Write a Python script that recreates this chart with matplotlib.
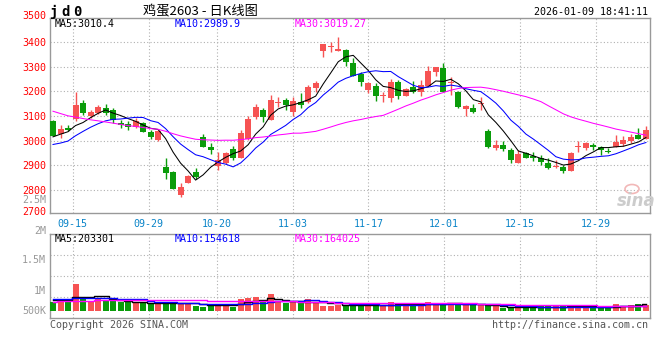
import matplotlib
matplotlib.use('Agg')
import matplotlib.pyplot as plt
import numpy as np
import pandas as pd
from matplotlib.patches import Ellipse

# ---------------- data ----------------
dates = ['09-10', '09-11', '09-12', '09-15', '09-16', '09-17', '09-18', '09-19', '09-22', '09-23',
         '09-24', '09-25', '09-26', '09-29', '09-30', '10-09', '10-10', '10-13', '10-14', '10-15',
         '10-16', '10-17', '10-20', '10-21', '10-22', '10-23', '10-24', '10-27', '10-28', '10-29',
         '10-30', '10-31', '11-03', '11-04', '11-05', '11-06', '11-07', '11-10', '11-11', '11-12',
         '11-13', '11-14', '11-17', '11-18', '11-19', '11-20', '11-21', '11-24', '11-25', '11-26',
         '11-27', '11-28', '12-01', '12-02', '12-03', '12-04', '12-05', '12-08', '12-09', '12-10',
         '12-11', '12-12', '12-15', '12-16', '12-17', '12-18', '12-19', '12-22', '12-23', '12-24',
         '12-25', '12-26', '12-29', '12-30', '12-31', '01-05', '01-06', '01-07', '01-08', '01-09']

opens = [3081, 3025, 3050, 3087, 3154, 3098, 3112, 3133, 3124, 3073,
         3066, 3056, 3070, 3035, 3002, 2893, 2873, 2778, 2829, 2870,
         3013, 2975, 2897, 2908, 2966, 2928, 3006, 3097, 3124, 3084,
         3152, 3165, 3118, 3158, 3158, 3213, 3366, 3381, 3366, 3369,
         3317, 3271, 3206, 3222, 3180, 3175, 3240, 3183, 3219, 3199,
         3223, 3280, 3297, 3234, 3199, 3130, 3131, 3150, 3039, 2969,
         2982, 2962, 2910, 2948, 2937, 2928, 2910, 2892, 2891, 2877,
         2974, 2968, 2982, 2975, 2959, 2973, 2986, 3000, 3022, 3006]
highs = [3083, 3062, 3063, 3199, 3165, 3125, 3145, 3150, 3133, 3085,
         3080, 3092, 3075, 3043, 3042, 2930, 2875, 2826, 2858, 2889,
         3027, 2990, 2952, 2955, 2976, 3043, 3098, 3149, 3131, 3186,
         3178, 3172, 3178, 3192, 3226, 3244, 3395, 3402, 3423, 3373,
         3335, 3280, 3240, 3236, 3199, 3251, 3247, 3214, 3243, 3247,
         3303, 3299, 3315, 3260, 3201, 3145, 3149, 3178, 3047, 3002,
         2998, 2969, 2960, 2955, 2955, 2941, 2930, 2920, 2901, 2955,
         2998, 2993, 2989, 2976, 2968, 3023, 3019, 3025, 3050, 3059]
lows = [3017, 3012, 3038, 3078, 3105, 3091, 3107, 3104, 3070, 3052,
        3042, 3050, 3033, 3008, 3000, 2842, 2803, 2772, 2828, 2845,
        2974, 2945, 2880, 2905, 2921, 2927, 3002, 3087, 3077, 3083,
        3138, 3124, 3100, 3131, 3154, 3199, 3339, 3362, 3365, 3305,
        3262, 3223, 3192, 3163, 3155, 3155, 3169, 3182, 3193, 3183,
        3222, 3263, 3198, 3186, 3132, 3100, 3113, 3124, 2968, 2962,
        2959, 2907, 2909, 2928, 2918, 2900, 2886, 2887, 2869, 2876,
        2955, 2960, 2962, 2941, 2949, 2972, 2978, 2991, 3006, 3005]
closes = [3019, 3048, 3042, 3145, 3113, 3118, 3135, 3111, 3082, 3064,
          3055, 3080, 3036, 3015, 3040, 2869, 2804, 2812, 2857, 2853,
          2975, 2960, 2920, 2950, 2928, 3029, 3088, 3136, 3097, 3165,
          3157, 3146, 3162, 3145, 3219, 3233, 3393, 3386, 3373, 3319,
          3264, 3238, 3233, 3183, 3184, 3240, 3183, 3209, 3196, 3226,
          3284, 3298, 3199, 3240, 3135, 3141, 3118, 3154, 2975, 2982,
          2965, 2921, 2945, 2929, 2929, 2912, 2887, 2897, 2876, 2951,
          2978, 2991, 2973, 2963, 2952, 2994, 3002, 3016, 3007, 3043]
# closes before the visible window (only needed for the moving averages)
prior_closes = [3330, 3320, 3300, 3290, 3270, 3260, 3250, 3230, 3220, 3200,
                3180, 3160, 3150, 3130, 3110, 3100, 3080, 3070, 3050, 3040,
                2990, 2960, 2930, 2935, 2950, 2993, 2992, 3020, 3051]

# volume in thousands of lots
volumes = [270, 340, 310, 840, 445, 310, 412, 340, 310, 290,
           270, 240, 240, 217, 217, 280, 280, 217, 257, 165,
           135, 165, 217, 217, 135, 372, 412, 445, 270, 537,
           270, 257, 270, 257, 372, 290, 165, 150, 186, 186,
           186, 186, 186, 186, 145, 290, 248, 186, 186, 186,
           290, 186, 258, 248, 207, 207, 186, 186, 145, 145,
           103, 103, 103, 145, 103, 145, 145, 145, 145, 186,
           130, 115, 130, 95, 95, 230, 165, 195, 230, 195]
prior_volumes = [240, 260, 230, 250, 270, 240, 250, 260, 230, 250,
                 240, 260, 250, 240, 270, 250, 240, 260, 250, 240,
                 400, 430, 420, 410, 415, 350, 370, 340, 368]

tick_labels = ['09-15', '09-29', '10-20', '11-03', '11-17', '12-01', '12-15', '12-29']
price_ticks = [2800, 2900, 3000, 3100, 3200, 3300, 3400]
vol_labels = ['2M', '1.5M', '1M', '500K']

# ---------------- computations ----------------
all_c = pd.Series(prior_closes + closes)
all_v = pd.Series(prior_volumes + volumes)
n0 = len(prior_closes)
ma5 = all_c.rolling(5).mean().values[n0:]
ma10 = all_c.rolling(10).mean().values[n0:]
ma30 = all_c.rolling(30).mean().values[n0:]
vma5 = all_v.rolling(5).mean().values[n0:]
vma10 = all_v.rolling(10).mean().values[n0:]
vma30 = all_v.rolling(30).mean().values[n0:]

x = np.arange(len(closes))
o = np.array(opens); c = np.array(closes); h = np.array(highs); l = np.array(lows)
up = c >= o
RED = '#f65353'
GREEN = '#0a9c0a'
colors = np.where(up, RED, GREEN)

W, H = 660, 360
def fx(px):
    return px / W
def fy(py):
    return 1 - py / H

fig = plt.figure(figsize=(6.6, 3.6), dpi=100)
fig.patch.set_facecolor('white')

MONO = 'DejaVu Sans Mono'
FS = 7.2
GRID = dict(color='#b0b0b0', linestyle=(0, (1, 2)), linewidth=0.8)

# ---------------- price panel ----------------
ax = fig.add_axes([fx(50), fy(213), 600 / W, (213 - 18) / H])
ax.set_xlim(-0.4, 79.54)
ax.set_ylim(2705, 3499)

ax.vlines(x, l, h, colors=colors, linewidth=1.0, zorder=3)
ax.bar(x, np.maximum(np.abs(c - o), 4), bottom=np.minimum(o, c), width=0.8,
       color=colors, linewidth=0, zorder=4)
ax.plot(x, ma5, color='black', lw=0.75, zorder=5)
ax.plot(x, ma10, color='#0000ff', lw=0.75, zorder=5)
ax.plot(x, ma30, color='#ff00ff', lw=0.75, zorder=5)

tick_idx = [dates.index(t) for t in tick_labels]
tick_pos = [i * 1.0099 - 0.4 for i in tick_idx]
ax.set_xticks(tick_pos)
ax.set_xticklabels(tick_labels, fontfamily=MONO, fontsize=FS, color='#0a84c8')
ax.set_yticks(price_ticks)
ax.set_yticklabels([str(p) for p in price_ticks], fontfamily=MONO, fontsize=FS, color='#ff0000')
ax.tick_params(axis='both', length=0)
ax.tick_params(axis='y', pad=3)
ax.tick_params(axis='x', pad=4)
ax.grid(True, **GRID)
ax.set_axisbelow(True)
for s in ax.spines.values():
    s.set_color('#999999')
    s.set_linewidth(1.0)

# ---------------- volume panel ----------------
axv = fig.add_axes([fx(50), fy(318), 600 / W, (318 - 234) / H])
axv.set_xlim(-0.4, 79.54)
vlo, vhi = -217, 2387
axv.set_ylim(vlo, vhi)
axv.bar(x, volumes, width=0.8, color=colors, linewidth=0, zorder=3)
axv.plot(x, vma5, color='black', lw=1.0, drawstyle='steps-mid', zorder=4)
axv.plot(x, vma10, color='#0000ff', lw=1.0, drawstyle='steps-mid', zorder=4)
axv.plot(x, vma30, color='#ff00ff', lw=1.0, drawstyle='steps-mid', zorder=4)
axv.set_xticks(tick_pos)
axv.set_yticks([vlo + (vhi - vlo) * f for f in (0.25, 0.5, 0.75)])
axv.tick_params(axis='both', length=0, labelbottom=False, labelleft=False)
axv.grid(True, **GRID)
axv.set_axisbelow(True)
for s in axv.spines.values():
    s.set_color('#999999')
    s.set_linewidth(1.0)

# ---------------- texts ----------------
def txt(px, py, s, **kw):
    kw.setdefault('fontfamily', MONO)
    kw.setdefault('fontsize', FS)
    kw.setdefault('va', 'center')
    fig.text(fx(px), fy(py), s, **kw)

for ch, px in zip('jd0', [53.5, 65.5, 77.5]):
    txt(px, 12, ch, fontsize=10, fontweight='bold', ha='center', color='black')
txt(200, 12, '鸡蛋2603 - 日K线图', fontfamily=['Noto Sans CJK SC', 'DejaVu Sans'],
    fontsize=9.5, ha='center', color='black')
txt(648, 12, '2026-01-09 18:41:11', ha='right', color='black')

txt(46, 16, '3500', ha='right', color='#ff0000')
txt(46, 212, '2700', ha='right', color='#ff0000')
txt(46, 200, '2.5M', ha='right', color='#999999')

txt(55, 24, 'MA5:3010.4', ha='left', color='black')
txt(175, 24, 'MA10:2989.9', ha='left', color='#0000ff')
txt(295, 24, 'MA30:3019.27', ha='left', color='#ff00ff')

for lab, py in zip(vol_labels, [230.7, 260, 290.7, 311]):
    txt(46, py, lab, ha='right', color='#999999')
txt(55, 238.5, 'MA5:203301', ha='left', color='black')
txt(175, 238.5, 'MA10:154618', ha='left', color='#0000ff')
txt(295, 238.5, 'MA30:164025', ha='left', color='#ff00ff')

txt(50, 324.5, 'Copyright 2026 SINA.COM', ha='left', color='#555555')
txt(648, 324.5, 'http://finance.sina.com.cn', ha='right', color='#555555')

# sina watermark
txt(636, 201, 'sina', fontfamily='DejaVu Sans', fontsize=12, fontweight='bold',
    style='italic', ha='center', color='#cccccc')
fig.patches.append(Ellipse((fx(632), fy(189)), 14 / W, 9 / H, transform=fig.transFigure,
                           facecolor='none', edgecolor='#f2b8b8', linewidth=1.2))

fig.savefig('out.png', dpi=100, facecolor='white')
